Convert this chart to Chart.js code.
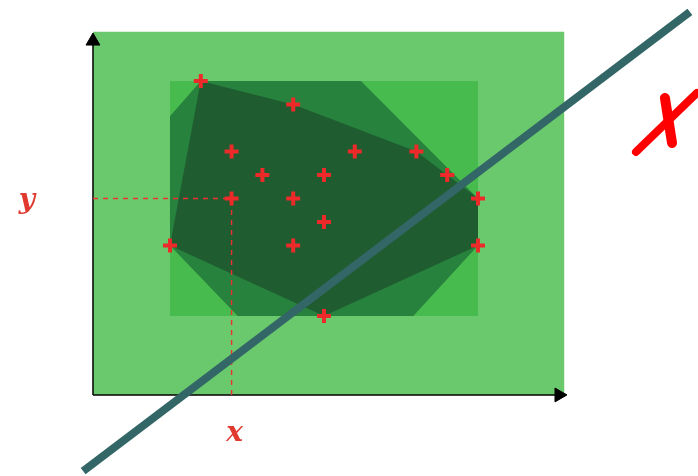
<!DOCTYPE html>
<html>
<head>
<meta charset="utf-8">
<script src="https://cdn.jsdelivr.net/npm/chart.js@4"></script>
<style>
  html, body { margin: 0; padding: 0; background: #fff; }
  #wrap { width: 698px; height: 476px; }
</style>
</head>
<body>
<div id="wrap"><canvas id="myChart"></canvas></div>
<script>
// sample points
var ptsX = [1, 4, 2, 3, 5, 6, 8, 9, 10, 10, 2, 4, 5, 0, 4, 5];
var ptsY = [10, 9, 7, 6, 6, 7, 7, 6, 5, 3, 5, 5, 4, 3, 3, 0];

// convex hull of the points
var hullX = [1, 4, 8, 10, 10, 5, 0, 1];
var hullY = [10, 9, 7, 5, 3, 0, 3, 10];

// octagon around the points
var octX = [1, 6.2, 10, 10, 7.9, 2.2, 0, 0, 1];
var octY = [10, 10, 5, 3, 0, 0, 3, 8.5, 10];

// bounding box and outer area
var boxX = [0, 10, 10, 0, 0];
var boxY = [0, 0, 10, 10, 0];
var outX = [-2.5, 12.8, 12.8, -2.5, -2.5];
var outY = [-3.36, -3.36, 12.1, 12.1, -3.36];

// axes (end = arrow position)
var axisX = [-2.5, 12.63];
var axisY = [-3.36, 11.7];

// selected point (2,5) projection
var selX = 2, selY = 5;

// separating line and the red cross mark
var sepX = [-2.82, 16.88];
var sepY = [-6.6, 12.94];
var mark1X = [15.13, 17.11], mark1Y = [6.98, 9.49];
var mark2X = [16.07, 16.3], mark2Y = [9.28, 7.36];

var labels = [
  { text: 'x', x: 2.1, y: -5.0 },
  { text: 'y', x: -4.65, y: 4.9 }
];

function pts(xs, ys) {
  return xs.map(function (v, i) { return { x: v, y: ys[i] }; });
}

function poly(xs, ys, color, order) {
  return {
    data: pts(xs, ys), fill: 'shape', backgroundColor: color,
    borderWidth: 0, pointRadius: 0, order: order, tension: 0
  };
}

function seg(xs, ys, color, width, order, extra) {
  var d = {
    data: pts(xs, ys), fill: false, borderColor: color, borderWidth: width,
    pointRadius: 0, order: order, tension: 0
  };
  for (var k in extra) d[k] = extra[k];
  return d;
}

var labelPlugin = {
  id: 'labelPlugin',
  afterDatasetsDraw: function (chart) {
    var c = chart.ctx, sx = chart.scales.x, sy = chart.scales.y;
    c.save();
    c.fillStyle = '#e03a30';
    c.font = 'italic bold 28px "DejaVu Serif"';
    c.textAlign = 'center';
    c.textBaseline = 'middle';
    labels.forEach(function (l) {
      c.fillText(l.text, sx.getPixelForValue(l.x), sy.getPixelForValue(l.y));
    });
    c.restore();
  }
};

var ctx = document.getElementById('myChart').getContext('2d');
var myChart = new Chart(ctx, {
  type: 'line',
  data: {
    datasets: [
      poly(outX, outY, '#6bc96d', 100),
      poly(boxX, boxY, '#48bb4e', 90),
      poly(octX, octY, '#27823d', 80),
      poly(hullX, hullY, '#1f5c30', 70),
      seg(axisX, [axisY[0], axisY[0]], '#000', 1.5, 60),
      seg([axisX[0], axisX[0]], axisY, '#000', 1.5, 60),
      {
        data: [{ x: axisX[1], y: axisY[0] }, { x: axisX[0], y: axisY[1] }],
        showLine: false, pointStyle: 'triangle', pointRadius: 8,
        pointRotation: [90, 0], backgroundColor: '#000', borderColor: '#000',
        borderWidth: 1, order: 59
      },
      seg([axisX[0], selX, selX], [selY, selY, axisY[0]], '#ee3030', 1.4, 50, { borderDash: [5, 5] }),
      seg(sepX, sepY, '#336666', 8, 40),
      {
        data: pts(ptsX, ptsY), showLine: false, pointStyle: 'cross',
        pointRadius: 7, borderWidth: 4, borderColor: '#ec2a2a', order: 30
      },
      seg(mark1X, mark1Y, '#ff0000', 8, 20, { borderCapStyle: 'round' }),
      seg(mark2X, mark2Y, '#ff0000', 10, 20, { borderCapStyle: 'round' })
    ]
  },
  options: {
    responsive: true,
    maintainAspectRatio: false,
    animation: false,
    events: [],
    layout: { padding: 0, autoPadding: false },
    plugins: { legend: { display: false }, tooltip: { enabled: false } },
    scales: {
      x: { type: 'linear', min: -5.519, max: 17.143, display: false },
      y: { type: 'linear', min: -6.809, max: 13.447, display: false }
    }
  },
  plugins: [labelPlugin]
});
</script>
</body>
</html>
